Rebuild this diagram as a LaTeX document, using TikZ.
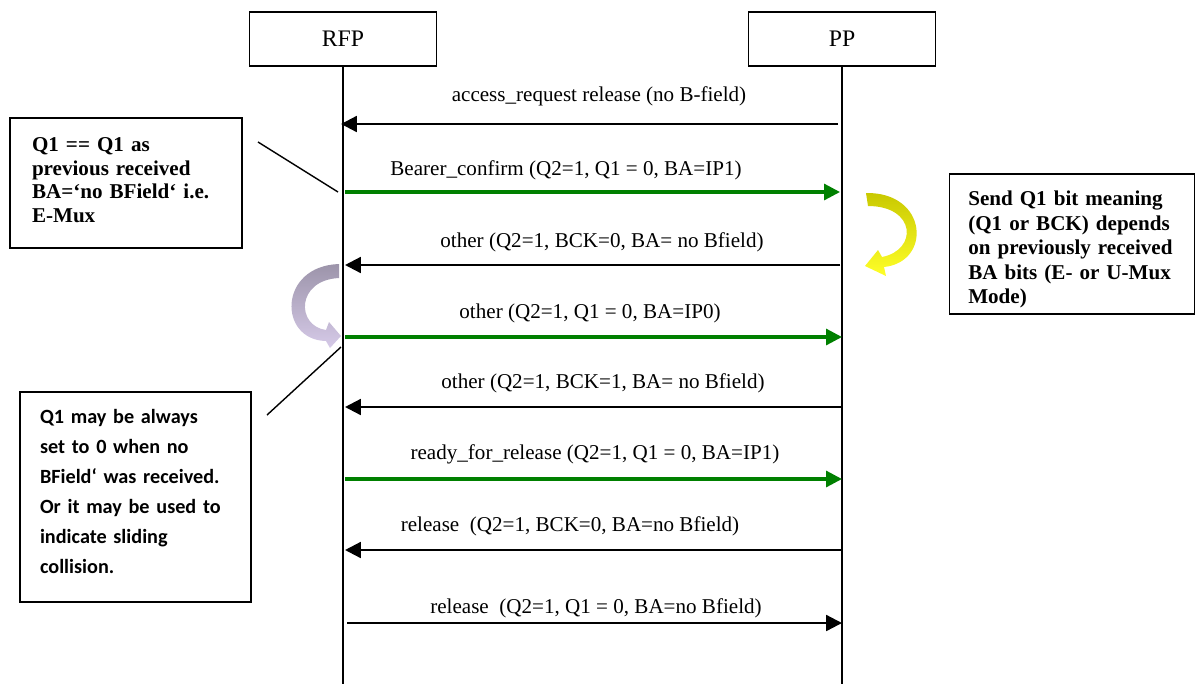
\documentclass[tikz,border=0pt]{standalone}
\usepackage{fontspec}
\setmainfont{Liberation Serif}
\newfontfamily\calibfont{Carlito}
\usetikzlibrary{arrows.meta}
\definecolor{msggreen}{RGB}{0,128,0}
\definecolor{yellowdark}{RGB}{200,200,0}
\definecolor{yellowlight}{RGB}{255,255,40}
\definecolor{lilacdark}{RGB}{156,148,170}
\definecolor{lilaclight}{RGB}{214,202,232}

\begin{document}
\begin{tikzpicture}[x=0.02cm,y=-0.02cm,
    every node/.style={font=\fontsize{12}{14}\selectfont},
    head/.style={draw,line width=0.7pt,minimum width=3.74cm,minimum height=1.08cm,inner sep=0pt,
                 font=\fontsize{13.5}{15}\selectfont},
    life/.style={line width=1.1pt},
    msg/.style={line width=1.3pt,-{Triangle[length=9pt,width=9pt]}},
    greenmsg/.style={msg,msggreen,line width=1.8pt},
    note/.style={draw,line width=0.7pt,align=left,inner ysep=0pt},
    pointer/.style={line width=0.8pt}]
    \useasboundingbox (0,0) rectangle (1196,684);

    % lifelines
    \node[head] (rfp) at (343,39) {RFP};
    \node[head] (pp) at (842,39) {PP};
    \coordinate (rfpend) at (343,684);
    \coordinate (ppend) at (842,684);
    \draw[life] (rfp.south) -- (rfpend);
    \draw[life] (pp.south) -- (ppend);

    % messages
    \coordinate (a1) at (838,124); \coordinate (b1) at (341,124);
    \draw[msg] (a1) -- (b1);
    \node (t1) at (599,96) {access\_request release (no B-field)};

    \coordinate (a2) at (345,192); \coordinate (b2) at (840,192);
    \draw[greenmsg] (a2) -- (b2);
    \node (t2) at (566,170) {Bearer\_confirm (Q2=1, Q1 = 0, BA=IP1)};

    \coordinate (a3) at (840,265); \coordinate (b3) at (345,265);
    \draw[msg] (a3) -- (b3);
    \node (t3) at (602,242) {other (Q2=1, BCK=0, BA= no Bfield)};

    \coordinate (a4) at (345,337); \coordinate (b4) at (842,337);
    \draw[greenmsg] (a4) -- (b4);
    \node (t4) at (590,313) {other (Q2=1, Q1 = 0, BA=IP0)};

    \coordinate (a5) at (842,407); \coordinate (b5) at (345,407);
    \draw[msg] (a5) -- (b5);
    \node (t5) at (603,383) {other (Q2=1, BCK=1, BA= no Bfield)};

    \coordinate (a6) at (345,479); \coordinate (b6) at (842,479);
    \draw[greenmsg] (a6) -- (b6);
    \node (t6) at (595,454) {ready\_for\_release (Q2=1, Q1 = 0, BA=IP1)};

    \coordinate (a7) at (842,550); \coordinate (b7) at (345,550);
    \draw[msg] (a7) -- (b7);
    \node (t7) at (570,526) {release~ (Q2=1, BCK=0, BA=no Bfield)};

    \coordinate (a8) at (347,623); \coordinate (b8) at (842,623);
    \draw[msg] (a8) -- (b8);
    \node (t8) at (596,608) {release~ (Q2=1, Q1 = 0, BA=no Bfield)};

    % notes
    \node[note,minimum height=2.6cm,text width=3.76cm,inner xsep=0.44cm,
          font=\bfseries\fontsize{12}{13.5}\selectfont] (emux) at (126,183)
        {Q1 == Q1 as\\previous received\\BA=‘no BField‘ i.e.\\E-Mux\rule[-0.12cm]{0pt}{0pt}};
    \node[note,minimum height=2.8cm,text width=4.15cm,inner xsep=0.375cm,
          font=\bfseries\fontsize{12}{13.9}\selectfont] (sendq) at (1072,244)
        {\rule{0pt}{0.52cm}Send Q1 bit meaning\\(Q1 or BCK) depends\\on previously received\\BA bits (E- or U-Mux\\Mode)};
    \node[note,minimum height=4.2cm,text width=3.82cm,inner xsep=0.4cm,
          font=\calibfont\bfseries\fontsize{11.5}{17}\selectfont] (zero) at (135.5,497)
        {Q1 may be always\\set to 0 when no\\BField‘ was received.\\Or it may be used to\\indicate sliding\\collision.\rule[-0.22cm]{0pt}{0pt}};

    \coordinate (p1) at (258,142); \coordinate (p2) at (338,192);
    \draw[pointer] (p1) -- (p2);
    \coordinate (p3) at (267,415); \coordinate (p4) at (341,347);
    \draw[pointer] (p3) -- (p4);

    % bent arrows
    \shade[top color=yellowdark,bottom color=yellowlight]
        (866,193) .. controls (928,192) and (932,262) .. (884,267) -- (886,276) -- (865,266)
        -- (878,250) -- (882,257) .. controls (918,250) and (916,206) .. (868,206) -- cycle;
    \shade[top color=lilacdark,bottom color=lilaclight]
        (339,264) .. controls (278,266) and (278,340) .. (326,341) -- (330,348) -- (341,336)
        -- (329,322) -- (326,330) .. controls (296,326) and (296,280) .. (339,278) -- cycle;
\end{tikzpicture}
\end{document}
